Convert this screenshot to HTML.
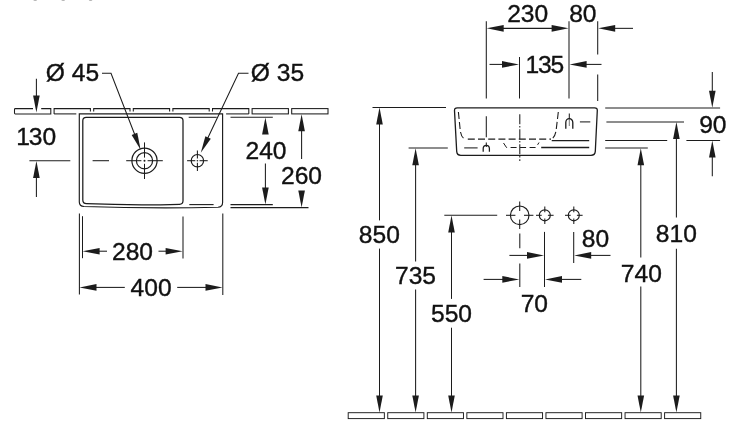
<!DOCTYPE html>
<html><head><meta charset="utf-8"><title>Drawing</title>
<style>
html,body{margin:0;padding:0;background:#fff;}
body{width:730px;height:430px;overflow:hidden;}
svg{display:block;will-change:transform;opacity:0.999;}
svg text{font-family:"Liberation Sans",Arial,Helvetica,sans-serif;font-size:24.6px;fill:#111;stroke:#111;stroke-width:0.38px;}
</style></head><body>
<svg width="730" height="430" viewBox="0 0 730 430" stroke="#1c1c1c" fill="none" stroke-linecap="butt">
<rect x="0" y="0" width="730" height="430" fill="#fff" stroke="none"/>
<ellipse cx="35.2" cy="0" rx="1.8" ry="1.1" fill="#b4b4b4" stroke="none"/>
<ellipse cx="63.2" cy="0" rx="1.8" ry="1.1" fill="#b4b4b4" stroke="none"/>
<ellipse cx="90.6" cy="0" rx="1.8" ry="1.1" fill="#b4b4b4" stroke="none"/>
<path d="M33,108.6 H15.30 Q14.50,108.6 14.50,109.39999999999999 V113.10000000000001 Q14.50,113.9 15.30,113.9 H50.80 V108.6 H41.2" stroke-width="1.05" fill="none"/>
<path d="M54.10,113.9 V108.6 H90.40 V111.6" stroke-width="1.05" fill="none"/>
<line x1="54.1" y1="113.9" x2="76.3" y2="113.9" stroke-width="1.05"/>
<path d="M93.70,111.6 V108.6 H130.00 V111.6" stroke-width="1.05" fill="none"/>
<path d="M133.30,111.6 V108.6 H169.60 V111.6" stroke-width="1.05" fill="none"/>
<path d="M172.90,111.6 V108.6 H209.20 V111.6" stroke-width="1.05" fill="none"/>
<path d="M212.50,111.6 V108.6 H248.80 V113.9" stroke-width="1.05" fill="none"/>
<line x1="226.1" y1="113.9" x2="248.79999999999998" y2="113.9" stroke-width="1.05"/>
<rect x="252.10" y="108.6" width="36.30" height="5.300000000000011" stroke-width="1.05" fill="none"/>
<rect x="291.70" y="108.6" width="36.30" height="5.300000000000011" stroke-width="1.05" fill="none"/>
<path d="M79.3,113.9 V202 Q79.3,206.2 84,206.5 Q150,208.7 218,207.3 Q222.6,207 222.6,202.5 V113.9 Z" stroke-width="1.15" fill="none"/>
<path d="M86.2,117.3 H179.5 Q183,117.3 183,120.8 V200.8 Q183,204.3 179.5,204.3 Q133,205.6 86.5,203.7 Q82.8,203.5 82.8,200 V120.8 Q82.8,117.3 86.2,117.3 Z" stroke-width="1.25" fill="none"/>
<line x1="189.3" y1="204.6" x2="213.6" y2="204.6" stroke-width="1.1"/>
<line x1="188.7" y1="117.3" x2="216.7" y2="117.3" stroke-width="1.05"/>
<circle cx="144.5" cy="160.7" r="12.6" stroke-width="1.2" fill="none"/>
<circle cx="144.5" cy="160.7" r="8.1" stroke-width="1.2" fill="none"/>
<line x1="126.2" y1="160.7" x2="141.4" y2="160.7" stroke-width="1.05"/>
<line x1="147.6" y1="160.7" x2="162.8" y2="160.7" stroke-width="1.05"/>
<line x1="144.5" y1="142.39999999999998" x2="144.5" y2="157.6" stroke-width="1.05"/>
<line x1="144.5" y1="163.79999999999998" x2="144.5" y2="179.0" stroke-width="1.05"/>
<circle cx="144.5" cy="160.7" r="1.0" fill="#1c1c1c" stroke="none"/>
<circle cx="197.4" cy="160.7" r="6.2" stroke-width="1.2" fill="none"/>
<line x1="187.1" y1="160.7" x2="195.3" y2="160.7" stroke-width="1.05"/>
<line x1="199.5" y1="160.7" x2="207.70000000000002" y2="160.7" stroke-width="1.05"/>
<line x1="197.4" y1="150.39999999999998" x2="197.4" y2="158.6" stroke-width="1.05"/>
<line x1="197.4" y1="162.79999999999998" x2="197.4" y2="171.0" stroke-width="1.05"/>
<circle cx="197.4" cy="160.7" r="0.8" fill="#1c1c1c" stroke="none"/>
<line x1="92.6" y1="160.7" x2="109" y2="160.7" stroke-width="1.05"/>
<path d="M102,73.2 H111 L138,143" stroke-width="1.05" fill="none"/>
<polygon points="140.60,149.80 131.67,135.02 137.27,132.86" fill="#1c1c1c" stroke="none"/>
<path d="M248.5,73.2 H238.5 L204,146" stroke-width="1.05" fill="none"/>
<polygon points="200.80,152.80 205.37,136.15 210.79,138.72" fill="#1c1c1c" stroke="none"/>
<text x="45.8" y="80.8" text-anchor="start">Ø 45</text>
<text x="250.8" y="80.8" text-anchor="start">Ø 35</text>
<line x1="36.4" y1="78.7" x2="36.4" y2="100" stroke-width="1.05"/>
<polygon points="36.40,112.40 33.10,95.40 39.70,95.40" fill="#1c1c1c" stroke="none"/>
<line x1="29.4" y1="160.7" x2="70.3" y2="160.7" stroke-width="1.05"/>
<polygon points="36.40,161.10 39.70,178.10 33.10,178.10" fill="#1c1c1c" stroke="none"/>
<line x1="36.4" y1="176" x2="36.4" y2="197" stroke-width="1.05"/>
<text x="16.2 28.8 42.5" y="145.4">130</text>
<line x1="230.5" y1="117.3" x2="272.8" y2="117.3" stroke-width="1.05"/>
<line x1="230.5" y1="204.6" x2="272.8" y2="204.6" stroke-width="1.05"/>
<polygon points="265.40,117.60 268.70,134.60 262.10,134.60" fill="#1c1c1c" stroke="none"/>
<line x1="265.4" y1="163.5" x2="265.4" y2="190" stroke-width="1.05"/>
<polygon points="265.40,204.50 262.10,187.50 268.70,187.50" fill="#1c1c1c" stroke="none"/>
<text x="245.5" y="158.9" text-anchor="start">240</text>
<polygon points="301.60,114.20 304.90,131.20 298.30,131.20" fill="#1c1c1c" stroke="none"/>
<line x1="301.6" y1="128" x2="301.6" y2="159" stroke-width="1.05"/>
<polygon points="301.60,207.40 298.30,190.40 304.90,190.40" fill="#1c1c1c" stroke="none"/>
<line x1="230.5" y1="207.6" x2="308.5" y2="207.6" stroke-width="1.05"/>
<text x="281" y="184" text-anchor="start">260</text>
<line x1="79.4" y1="213.4" x2="79.4" y2="294.5" stroke-width="1.05"/>
<line x1="82.5" y1="216.2" x2="82.5" y2="258.2" stroke-width="1.05"/>
<line x1="183" y1="216.5" x2="183" y2="258.6" stroke-width="1.05"/>
<line x1="222.8" y1="213.6" x2="222.8" y2="295" stroke-width="1.05"/>
<polygon points="82.60,251.20 99.60,247.90 99.60,254.50" fill="#1c1c1c" stroke="none"/>
<line x1="97" y1="251.2" x2="107" y2="251.2" stroke-width="1.05"/>
<line x1="158.5" y1="251.2" x2="168" y2="251.2" stroke-width="1.05"/>
<polygon points="182.60,251.20 165.60,254.50 165.60,247.90" fill="#1c1c1c" stroke="none"/>
<text x="112" y="260.2" text-anchor="start">280</text>
<polygon points="79.50,287.40 96.50,284.10 96.50,290.70" fill="#1c1c1c" stroke="none"/>
<line x1="94" y1="287.4" x2="124.8" y2="287.4" stroke-width="1.05"/>
<line x1="177.2" y1="287.4" x2="208" y2="287.4" stroke-width="1.05"/>
<polygon points="222.50,287.40 205.50,290.70 205.50,284.10" fill="#1c1c1c" stroke="none"/>
<text x="130.6" y="296.3" text-anchor="start">400</text>
<rect x="348.20" y="412.7" width="36.15" height="5.900000000000034" stroke-width="0.95" fill="none"/>
<rect x="387.75" y="412.7" width="36.15" height="5.900000000000034" stroke-width="0.95" fill="none"/>
<rect x="427.30" y="412.7" width="36.15" height="5.900000000000034" stroke-width="0.95" fill="none"/>
<rect x="466.85" y="412.7" width="36.15" height="5.900000000000034" stroke-width="0.95" fill="none"/>
<rect x="506.40" y="412.7" width="36.15" height="5.900000000000034" stroke-width="0.95" fill="none"/>
<rect x="545.95" y="412.7" width="36.15" height="5.900000000000034" stroke-width="0.95" fill="none"/>
<rect x="585.50" y="412.7" width="36.15" height="5.900000000000034" stroke-width="0.95" fill="none"/>
<rect x="625.05" y="412.7" width="36.15" height="5.900000000000034" stroke-width="0.95" fill="none"/>
<rect x="664.60" y="412.7" width="36.15" height="5.900000000000034" stroke-width="0.95" fill="none"/>
<line x1="486.3" y1="21.2" x2="486.3" y2="98.5" stroke-width="1.05"/>
<line x1="519.5" y1="57" x2="519.5" y2="98.5" stroke-width="1.05"/>
<line x1="569" y1="21.2" x2="569" y2="98.5" stroke-width="1.05"/>
<line x1="597.7" y1="21.2" x2="597.7" y2="54.4" stroke-width="1.05"/>
<line x1="597.7" y1="74.5" x2="597.7" y2="101" stroke-width="1.05"/>
<line x1="500" y1="28.35" x2="556" y2="28.35" stroke-width="1.05"/>
<polygon points="486.70,28.35 503.70,25.05 503.70,31.65" fill="#1c1c1c" stroke="none"/>
<polygon points="568.60,28.35 551.60,31.65 551.60,25.05" fill="#1c1c1c" stroke="none"/>
<text x="507.2" y="22.3" text-anchor="start">230</text>
<polygon points="598.20,28.35 615.20,25.05 615.20,31.65" fill="#1c1c1c" stroke="none"/>
<line x1="612" y1="28.35" x2="633" y2="28.35" stroke-width="1.05"/>
<text x="569.2" y="22.3" text-anchor="start">80</text>
<line x1="489.5" y1="64.4" x2="504" y2="64.4" stroke-width="1.05"/>
<polygon points="519.00,64.40 502.00,67.70 502.00,61.10" fill="#1c1c1c" stroke="none"/>
<polygon points="569.60,64.40 586.60,61.10 586.60,67.70" fill="#1c1c1c" stroke="none"/>
<line x1="585" y1="64.4" x2="601.5" y2="64.4" stroke-width="1.05"/>
<text x="525.6" y="73.1" textLength="38.6" lengthAdjust="spacing">135</text>
<path d="M457.3,107.8 H594.6 Q597.4,107.8 597.3,110.6 L595.3,151.4 Q595,155.3 591,155.3 H460.8 Q457,155.3 456.7,151.4 L454.5,110.6 Q454.4,107.8 457.3,107.8 Z" stroke-width="1.3" fill="none"/>
<path d="M458.4,112 L460,128 Q460.8,138.9 466,139 " stroke-width="1.1" fill="none" stroke-dasharray="7 3"/>
<path d="M467.8,139.1 H551" stroke-width="1.1" fill="none" stroke-dasharray="7 3.2"/>
<path d="M558.3,112 L556.4,128 Q555.4,139 550,139.2" stroke-width="1.1" fill="none" stroke-dasharray="7 3"/>
<path d="M503.5,143 L506.5,147.5 H536 L539,142.5" stroke-width="1.0" fill="none" stroke-dasharray="6 3.5"/>
<line x1="551.7" y1="140.6" x2="589.2" y2="140.6" stroke-width="1.3"/>
<line x1="541.2" y1="147.5" x2="589.2" y2="147.5" stroke-width="1.3"/>
<line x1="486.3" y1="116.2" x2="486.3" y2="137.3" stroke-width="1.05"/>
<line x1="486.3" y1="142.5" x2="486.3" y2="147" stroke-width="1.05"/>
<line x1="519.8" y1="114.2" x2="519.8" y2="161" stroke-width="1.05" stroke-dasharray="10 1.7 1.6 1.7"/>
<path d="M483.2,151.8 V148.6 A3.1,3.3 0 0 1 489.4,148.6 V151.8" stroke-width="1.25" fill="none"/>
<line x1="464.2" y1="147.9" x2="477.6" y2="147.9" stroke-width="1.05"/>
<path d="M565.8,128.8 V122.5 A3.5,3.8 0 0 1 572.8,122.5 V128.8" stroke-width="1.3" fill="none"/>
<line x1="569.3" y1="113.5" x2="569.3" y2="119" stroke-width="1.05"/>
<line x1="569.3" y1="119" x2="569.3" y2="126" stroke-width="0.6"/>
<line x1="579.9" y1="121.9" x2="590.3" y2="121.9" stroke-width="1.05"/>
<line x1="605.2" y1="107.9" x2="720.1" y2="107.9" stroke-width="1.05"/>
<line x1="606.4" y1="121.9" x2="684" y2="121.9" stroke-width="1.05"/>
<line x1="605.2" y1="140.4" x2="667.2" y2="140.4" stroke-width="1.05"/>
<line x1="686.4" y1="140.4" x2="720.1" y2="140.4" stroke-width="1.05"/>
<line x1="605.2" y1="148" x2="647.8" y2="148" stroke-width="1.05"/>
<line x1="712.3" y1="72" x2="712.3" y2="93" stroke-width="1.05"/>
<polygon points="712.30,107.80 709.00,90.80 715.60,90.80" fill="#1c1c1c" stroke="none"/>
<polygon points="712.30,140.50 715.60,157.50 709.00,157.50" fill="#1c1c1c" stroke="none"/>
<line x1="712.3" y1="155" x2="712.3" y2="176.2" stroke-width="1.05"/>
<text x="699.2" y="133.2" text-anchor="start">90</text>
<line x1="372.5" y1="107.4" x2="446" y2="107.4" stroke-width="1.05"/>
<polygon points="379.50,107.50 382.80,124.50 376.20,124.50" fill="#1c1c1c" stroke="none"/>
<line x1="379.5" y1="122" x2="379.5" y2="220.4" stroke-width="1.05"/>
<line x1="379.5" y1="248.6" x2="379.5" y2="398" stroke-width="1.05"/>
<polygon points="379.50,412.50 376.20,395.50 382.80,395.50" fill="#1c1c1c" stroke="none"/>
<text x="358.8" y="243.2" text-anchor="start">850</text>
<line x1="408.6" y1="148" x2="447.8" y2="148" stroke-width="1.05"/>
<polygon points="415.60,148.20 418.90,165.20 412.30,165.20" fill="#1c1c1c" stroke="none"/>
<line x1="415.6" y1="163" x2="415.6" y2="261.6" stroke-width="1.05"/>
<line x1="415.6" y1="289.5" x2="415.6" y2="398" stroke-width="1.05"/>
<polygon points="415.60,412.50 412.30,395.50 418.90,395.50" fill="#1c1c1c" stroke="none"/>
<text x="395" y="283.8" text-anchor="start">735</text>
<line x1="444.3" y1="215.2" x2="497.2" y2="215.2" stroke-width="1.05"/>
<polygon points="451.50,215.40 454.80,232.40 448.20,232.40" fill="#1c1c1c" stroke="none"/>
<line x1="451.5" y1="230" x2="451.5" y2="298.9" stroke-width="1.05"/>
<line x1="451.5" y1="327.7" x2="451.5" y2="398" stroke-width="1.05"/>
<polygon points="451.50,412.50 448.20,395.50 454.80,395.50" fill="#1c1c1c" stroke="none"/>
<text x="431" y="322" text-anchor="start">550</text>
<polygon points="640.80,148.20 644.10,165.20 637.50,165.20" fill="#1c1c1c" stroke="none"/>
<line x1="640.8" y1="163" x2="640.8" y2="257.4" stroke-width="1.05"/>
<line x1="640.8" y1="286.5" x2="640.8" y2="398" stroke-width="1.05"/>
<polygon points="640.80,412.50 637.50,395.50 644.10,395.50" fill="#1c1c1c" stroke="none"/>
<text x="620.8" y="281.9" text-anchor="start">740</text>
<polygon points="676.40,122.10 679.70,139.10 673.10,139.10" fill="#1c1c1c" stroke="none"/>
<line x1="676.4" y1="137" x2="676.4" y2="217.5" stroke-width="1.05"/>
<line x1="676.4" y1="248.8" x2="676.4" y2="398" stroke-width="1.05"/>
<polygon points="676.40,412.50 673.10,395.50 679.70,395.50" fill="#1c1c1c" stroke="none"/>
<text x="655.8" y="242" text-anchor="start">810</text>
<circle cx="519.7" cy="215.3" r="9.3" stroke-width="1.15" fill="none"/>
<line x1="506.00000000000006" y1="215.3" x2="515.4000000000001" y2="215.3" stroke-width="1.05"/>
<line x1="524.0" y1="215.3" x2="533.4000000000001" y2="215.3" stroke-width="1.05"/>
<line x1="519.7" y1="201.60000000000002" x2="519.7" y2="211.0" stroke-width="1.05"/>
<line x1="519.7" y1="219.60000000000002" x2="519.7" y2="229.0" stroke-width="1.05"/>
<circle cx="544.8" cy="215.3" r="5.5" stroke-width="1.15" fill="none"/>
<line x1="536.0" y1="215.3" x2="541.6999999999999" y2="215.3" stroke-width="1.05"/>
<line x1="547.9" y1="215.3" x2="553.5999999999999" y2="215.3" stroke-width="1.05"/>
<line x1="544.8" y1="206.5" x2="544.8" y2="212.20000000000002" stroke-width="1.05"/>
<line x1="544.8" y1="218.4" x2="544.8" y2="224.10000000000002" stroke-width="1.05"/>
<circle cx="573.8" cy="215.3" r="5.5" stroke-width="1.15" fill="none"/>
<line x1="565.0" y1="215.3" x2="570.6999999999999" y2="215.3" stroke-width="1.05"/>
<line x1="576.9" y1="215.3" x2="582.5999999999999" y2="215.3" stroke-width="1.05"/>
<line x1="573.8" y1="206.5" x2="573.8" y2="212.20000000000002" stroke-width="1.05"/>
<line x1="573.8" y1="218.4" x2="573.8" y2="224.10000000000002" stroke-width="1.05"/>
<line x1="519.8" y1="233.6" x2="519.8" y2="248.2" stroke-width="1.05"/>
<line x1="519.8" y1="263.5" x2="519.8" y2="287" stroke-width="1.05"/>
<line x1="544.5" y1="231.9" x2="544.5" y2="287" stroke-width="1.05"/>
<line x1="573.7" y1="231.9" x2="573.7" y2="263" stroke-width="1.05"/>
<line x1="509.4" y1="255.4" x2="529" y2="255.4" stroke-width="1.05"/>
<polygon points="544.00,255.40 527.00,258.70 527.00,252.10" fill="#1c1c1c" stroke="none"/>
<polygon points="574.20,255.40 591.20,252.10 591.20,258.70" fill="#1c1c1c" stroke="none"/>
<line x1="589" y1="255.4" x2="610.5" y2="255.4" stroke-width="1.05"/>
<text x="581.8" y="247.2" text-anchor="start">80</text>
<line x1="483.6" y1="279.4" x2="504" y2="279.4" stroke-width="1.05"/>
<polygon points="519.30,279.40 502.30,282.70 502.30,276.10" fill="#1c1c1c" stroke="none"/>
<polygon points="545.00,279.40 562.00,276.10 562.00,282.70" fill="#1c1c1c" stroke="none"/>
<line x1="560" y1="279.4" x2="581.3" y2="279.4" stroke-width="1.05"/>
<text x="520.7" y="312.0" text-anchor="start">70</text>
</svg>
</body></html>
